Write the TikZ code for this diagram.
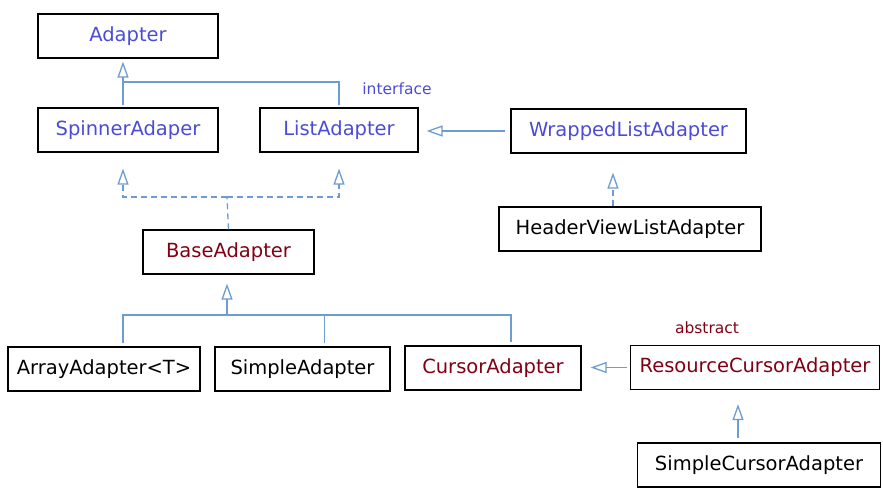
\documentclass[tikz,border=0pt]{standalone}
\usepackage{fontspec}
\setmainfont{DejaVu Sans}
\usetikzlibrary{arrows.meta}
\definecolor{ifblau}{RGB}{75,75,215}
\definecolor{absrot}{RGB}{128,0,20}
\definecolor{linie}{RGB}{110,155,210}
\tikzset{
  klasse/.style={draw=black, line width=1.2pt, minimum height=44pt, inner sep=0pt,
                 font=\fontsize{19.5}{23}\selectfont},
  verb/.style={draw=linie, line width=1.3pt},
  erbt/.style={verb, -{Triangle[open, length=16pt, width=11pt]}},
  strich/.style={dash pattern=on 6pt off 4pt},
  notiz/.style={font=\fontsize{15.5}{18}\selectfont}
}
\begin{document}
\begin{tikzpicture}[x=1pt, y=-1pt]
  \useasboundingbox (0,0) rectangle (883,495);

  % Schnittstellen
  \node[klasse, text=ifblau, minimum width=180pt] (adapter) at (128,36) {Adapter};
  \node[klasse, text=ifblau, minimum width=180pt] (spinner) at (128,130) {SpinnerAdaper};
  \node[klasse, text=ifblau, minimum width=158pt] (list) at (339,130) {ListAdapter};
  \node[klasse, text=ifblau, minimum width=235pt] (wrapped) at (628.5,131) {WrappedListAdapter};
  \node[notiz, text=ifblau] (iflabel) at (397,89) {interface};

  % Klassen
  \node[klasse, minimum width=262pt] (header) at (630,229) {HeaderViewListAdapter};
  \node[klasse, text=absrot, minimum width=171pt] (base) at (228.5,252) {BaseAdapter};
  \node[klasse, minimum width=192pt] (array) at (104,369) {ArrayAdapter<T>};
  \node[klasse, minimum width=175pt] (simple) at (302.5,369) {SimpleAdapter};
  \node[klasse, text=absrot, minimum width=176pt] (cursor) at (493,368) {CursorAdapter};
  \node[klasse, text=absrot, minimum width=249pt] (resource) at (755,367.5) {ResourceCursorAdapter};
  \node[klasse, minimum width=243pt] (simplecursor) at (759,465) {SimpleCursorAdapter};
  \node[notiz, text=absrot] (abslabel) at (707,328) {abstract};

  % Vererbung Adapter
  \coordinate (oben) at (123,82);
  \draw[verb, shorten <=2pt] ([xshift=-5pt]spinner.north) -- (oben);
  \draw[verb, shorten <=2pt] (list.north) |- (oben);
  \draw[erbt, shorten >=3pt] (oben) -- (adapter.south -| oben);

  % Implementierung durch BaseAdapter
  \coordinate (mitte) at (227,197);
  \draw[verb, strich] (base.north) -- (mitte);
  \draw[erbt, strich, shorten >=16pt] (mitte) -| ([xshift=-5pt]spinner.south);
  \draw[erbt, strich, shorten >=16pt] (mitte) -| (list.south);

  % WrappedListAdapter
  \draw[erbt, shorten <=5pt, shorten >=8pt] (wrapped.west) -- (list.east |- wrapped.west);
  \draw[erbt, strich, shorten >=19pt] ([xshift=-17pt]header.north) -- ([xshift=-17pt]header.north |- wrapped.south);

  % Unterklassen von BaseAdapter
  \coordinate (unten) at (227,315);
  \foreach \k/\d in {array/19,simple/22,cursor/18}
    \draw[verb, shorten <=3pt] ([xshift=\d pt]\k.north) |- (unten);
  \draw[erbt, shorten >=9pt] (unten) -- (base.south -| unten);

  % Cursor-Adapter
  \draw[erbt, shorten <=3pt, shorten >=9pt] (resource.west) -- (cursor.east |- resource.west);
  \draw[erbt, shorten <=4pt, shorten >=14pt] ([xshift=-21pt]simplecursor.north) -- ([xshift=-21pt]simplecursor.north |- resource.south);
\end{tikzpicture}
\end{document}
